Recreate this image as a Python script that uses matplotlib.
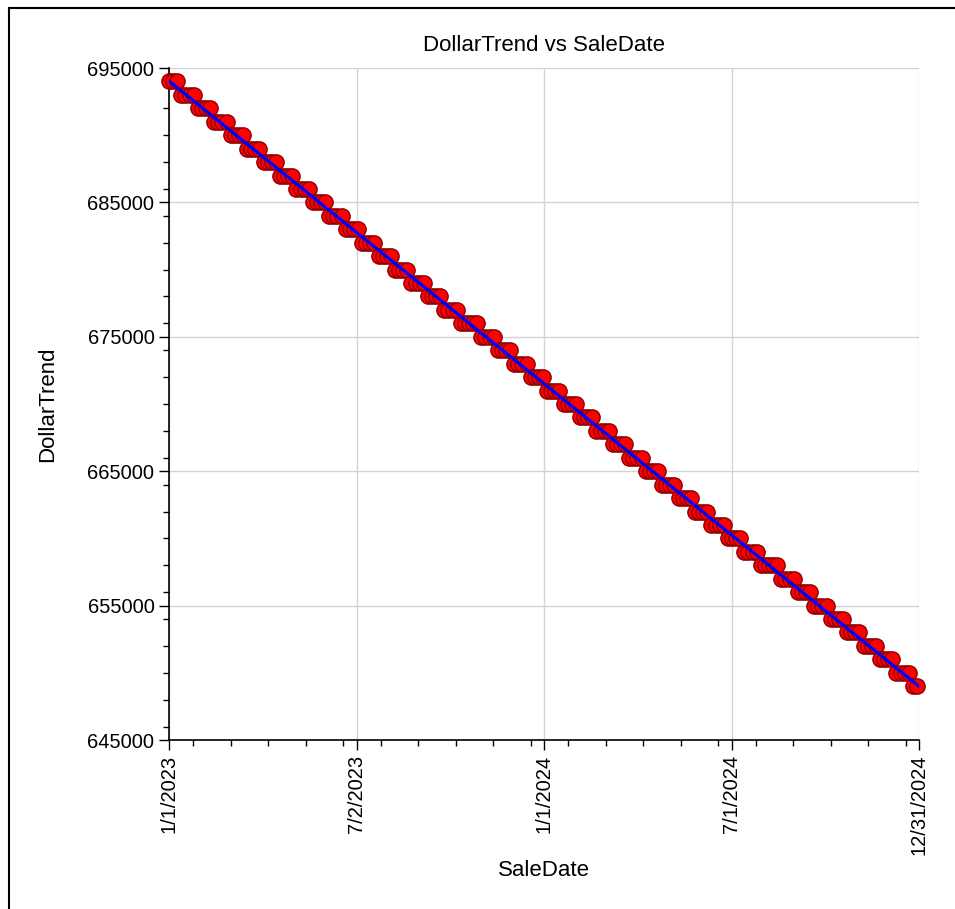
import matplotlib
matplotlib.use("Agg")
import matplotlib.pyplot as plt
import matplotlib.dates as mdates
from matplotlib.ticker import FixedLocator, MultipleLocator, FixedFormatter, FuncFormatter
import numpy as np

plt.rcParams['font.family'] = ['Liberation Sans', 'DejaVu Sans']

# ---- data ----
start_date = "2023-01-01"
day_step = 4  # sale dates every 4 days from start_date
dollar_trend = [
    694000, 694000, 694000,
    693000, 693000, 693000, 693000,
    692000, 692000, 692000, 692000,
    691000, 691000, 691000, 691000,
    690000, 690000, 690000, 690000,
    689000, 689000, 689000, 689000,
    688000, 688000, 688000, 688000,
    687000, 687000, 687000, 687000,
    686000, 686000, 686000, 686000,
    685000, 685000, 685000, 685000,
    684000, 684000, 684000, 684000,
    683000, 683000, 683000, 683000,
    682000, 682000, 682000, 682000,
    681000, 681000, 681000, 681000,
    680000, 680000, 680000, 680000,
    679000, 679000, 679000, 679000,
    678000, 678000, 678000, 678000,
    677000, 677000, 677000, 677000,
    676000, 676000, 676000, 676000, 676000,
    675000, 675000, 675000, 675000,
    674000, 674000, 674000, 674000,
    673000, 673000, 673000, 673000,
    672000, 672000, 672000, 672000,
    671000, 671000, 671000, 671000,
    670000, 670000, 670000, 670000,
    669000, 669000, 669000, 669000,
    668000, 668000, 668000, 668000,
    667000, 667000, 667000, 667000,
    666000, 666000, 666000, 666000,
    665000, 665000, 665000, 665000,
    664000, 664000, 664000, 664000,
    663000, 663000, 663000, 663000,
    662000, 662000, 662000, 662000,
    661000, 661000, 661000, 661000,
    660000, 660000, 660000, 660000,
    659000, 659000, 659000, 659000,
    658000, 658000, 658000, 658000, 658000,
    657000, 657000, 657000, 657000,
    656000, 656000, 656000, 656000,
    655000, 655000, 655000, 655000,
    654000, 654000, 654000, 654000,
    653000, 653000, 653000, 653000,
    652000, 652000, 652000, 652000,
    651000, 651000, 651000, 651000,
    650000, 650000, 650000, 650000,
    649000, 649000,
]
sale_day_offsets = [i * day_step for i in range(len(dollar_trend))]
x_tick_labels = ["1/1/2023", "7/2/2023", "1/1/2024", "7/1/2024", "12/31/2024"]
x_tick_days = [0, 182.5, 365, 547.5, 730]
y_ticks = [645000, 655000, 665000, 675000, 685000, 695000]

# ---- figure ----
fig = plt.figure(figsize=(9.55, 9.09), dpi=100)
ax = fig.add_axes([169/955, 1-740/909, 750/955, 672/909])

base = mdates.date2num(np.datetime64(start_date))
xs = base + np.array(sale_day_offsets, dtype=float)
ys = np.array(dollar_trend, dtype=float)

ax.plot(xs, ys, color='red', lw=0.8, zorder=2, clip_on=False)
ax.plot(xs, ys, linestyle='none', marker='o', markersize=11, markerfacecolor='#ff0000',
        markeredgecolor='#8b0000', markeredgewidth=1.0, zorder=3, clip_on=False)

coef = np.polyfit(xs - base, ys, 1)
fx = base + np.array([0, 730], dtype=float)
ax.plot(fx, np.polyval(coef, fx - base), color='#0000ff', lw=2.3, zorder=4)

ax.set_xlim(base, base + 730)
ax.set_ylim(645000, 695000)

ax.xaxis.set_major_locator(FixedLocator([base + d for d in x_tick_days]))
ax.xaxis.set_major_formatter(FixedFormatter(x_tick_labels))
ax.xaxis.set_minor_locator(MultipleLocator(36.5))
ax.yaxis.set_major_locator(FixedLocator(y_ticks))
ax.yaxis.set_minor_locator(MultipleLocator(2000))
ax.yaxis.set_major_formatter(FuncFormatter(lambda v, p: f"{int(v)}"))

for lab in ax.get_xticklabels():
    lab.set_rotation(90)
ax.tick_params(axis='both', which='major', labelsize=14.5, length=7, width=1, direction='out', colors='black')
ax.tick_params(axis='both', which='minor', length=4, width=1, direction='out')

ax.grid(True, which='major', color='#d3d3d3', lw=1, zorder=0)
ax.set_axisbelow(True)
for s in ['top', 'right']:
    ax.spines[s].set_visible(False)
for s in ['left', 'bottom']:
    ax.spines[s].set_linewidth(1.2)

ax.set_title("DollarTrend vs SaleDate", fontsize=16, pad=12)
ax.set_xlabel("SaleDate", fontsize=16)
ax.set_ylabel("DollarTrend", fontsize=16)
ax.xaxis.set_label_coords(0.5, (740 - 870) / 672, transform=ax.transAxes)
ax.yaxis.set_label_coords((48 - 169) / 750, 0.5, transform=ax.transAxes)
ax.xaxis.label.set_va('center')
ax.yaxis.label.set_va('center')

# outer frame of the picture
fig.add_artist(plt.Line2D([9/955, 9/955], [0, 1-8/909], color='black', lw=1.5, transform=fig.transFigure))
fig.add_artist(plt.Line2D([9/955, 1], [1-8/909, 1-8/909], color='black', lw=1.5, transform=fig.transFigure))

fig.savefig("out.png", dpi=100)
